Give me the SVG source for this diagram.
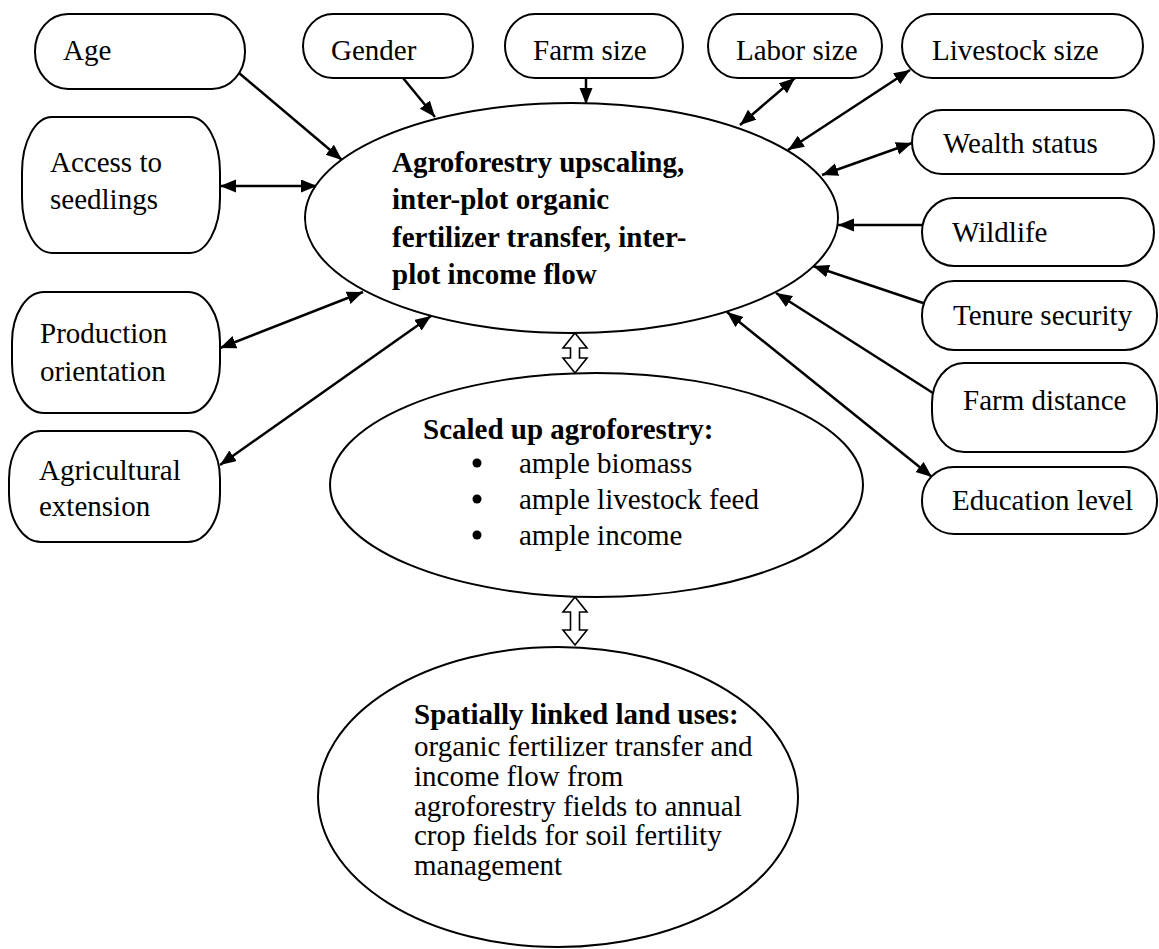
<svg xmlns="http://www.w3.org/2000/svg" width="1159" height="949" viewBox="0 0 1159 949">
<style>
.box{fill:#fff;stroke:#000;stroke-width:2}
.ell{fill:#fff;stroke:#000;stroke-width:2}
.t{font-family:"Liberation Serif","Times New Roman",serif;font-size:29px;fill:#000}
.b{font-weight:bold}
.c{stroke:#000;stroke-width:2.5;fill:none}
.ha{fill:#fff;stroke:#000;stroke-width:1.6}
</style>
<defs>
<marker id="ah" markerUnits="userSpaceOnUse" markerWidth="18" markerHeight="14" refX="16" refY="6.5" orient="auto-start-reverse" viewBox="0 0 18 14">
<path d="M0,0 L16,6.5 L0,13 z" fill="#000"/>
</marker>
</defs>
<rect width="1159" height="949" fill="#fff"/>

<g id="connectors">
<line class="c" x1="239" y1="73" x2="342" y2="160" marker-end="url(#ah)"/>
<line class="c" x1="403" y1="78" x2="435" y2="117" marker-end="url(#ah)"/>
<line class="c" x1="586" y1="78" x2="586" y2="104" marker-end="url(#ah)"/>
<line class="c" x1="795" y1="78" x2="740" y2="125" marker-start="url(#ah)" marker-end="url(#ah)"/>
<line class="c" x1="910" y1="70" x2="788" y2="150" marker-start="url(#ah)" marker-end="url(#ah)"/>
<line class="c" x1="912" y1="143" x2="822" y2="175" marker-start="url(#ah)" marker-end="url(#ah)"/>
<line class="c" x1="922" y1="225" x2="838" y2="225" marker-end="url(#ah)"/>
<line class="c" x1="923" y1="303" x2="813" y2="266" marker-end="url(#ah)"/>
<line class="c" x1="933" y1="393" x2="776" y2="293" marker-end="url(#ah)"/>
<line class="c" x1="727" y1="312" x2="932" y2="477" marker-start="url(#ah)" marker-end="url(#ah)"/>
<line class="c" x1="220" y1="186" x2="317" y2="186" marker-start="url(#ah)" marker-end="url(#ah)"/>
<line class="c" x1="220" y1="348" x2="363" y2="292" marker-start="url(#ah)" marker-end="url(#ah)"/>
<line class="c" x1="220" y1="465" x2="431" y2="316" marker-start="url(#ah)" marker-end="url(#ah)"/>
<path class="ha" d="M575,333 L587,348 L579.5,348 L579.5,358 L587,358 L575,373 L563,358 L570.5,358 L570.5,348 L563,348 Z"/>
<path class="ha" d="M575,597 L587,612 L579.5,612 L579.5,630 L587,630 L575,645 L563,630 L570.5,630 L570.5,612 L563,612 Z"/>
</g>

<g id="main">
<ellipse class="ell" cx="571.5" cy="218" rx="266.5" ry="115"/>
<text class="t b" x="392" y="172">Agroforestry upscaling,</text>
<text class="t b" x="392" y="209">inter-plot organic</text>
<text class="t b" x="392" y="247">fertilizer transfer, inter-</text>
<text class="t b" x="392" y="284">plot income flow</text>
</g>

<g id="scaled">
<ellipse class="ell" cx="596.5" cy="485" rx="266.5" ry="112"/>
<text class="t b" x="423" y="439">Scaled up agroforestry:</text>
<circle cx="477" cy="463" r="4.5"/>
<circle cx="477" cy="499" r="4.5"/>
<circle cx="477" cy="535" r="4.5"/>
<text class="t" x="519" y="473">ample biomass</text>
<text class="t" x="519" y="509">ample livestock feed</text>
<text class="t" x="519" y="545">ample income</text>
</g>

<g id="spatial">
<ellipse class="ell" cx="558" cy="797" rx="240" ry="150"/>
<text class="t b" x="414" y="724">Spatially linked land uses:</text>
<text class="t" x="414" y="756">organic fertilizer transfer and</text>
<text class="t" x="414" y="786">income flow from</text>
<text class="t" x="414" y="816">agroforestry fields to annual</text>
<text class="t" x="414" y="845">crop fields for soil fertility</text>
<text class="t" x="414" y="875">management</text>
</g>

<g id="age"><rect class="box" x="35" y="14" width="210" height="75" rx="33" ry="37"/><text class="t" x="63" y="60">Age</text></g>
<g id="gender"><rect class="box" x="303" y="14" width="170" height="64" rx="30" ry="32"/><text class="t" x="331" y="60">Gender</text></g>
<g id="farmsize"><rect class="box" x="505" y="14" width="178" height="64" rx="30" ry="32"/><text class="t" x="533" y="60">Farm size</text></g>
<g id="labor"><rect class="box" x="708" y="14" width="174" height="64" rx="30" ry="32"/><text class="t" x="736" y="60">Labor size</text></g>
<g id="livestock"><rect class="box" x="902" y="14" width="241" height="64" rx="30" ry="32"/><text class="t" x="932" y="60">Livestock size</text></g>

<g id="access"><rect class="box" x="22" y="117" width="198" height="136" rx="30" ry="55"/><text class="t" x="50" y="172">Access to</text><text class="t" x="50" y="209">seedlings</text></g>
<g id="production"><rect class="box" x="12" y="292" width="208" height="121" rx="32" ry="50"/><text class="t" x="40" y="343">Production</text><text class="t" x="40" y="381">orientation</text></g>
<g id="extension"><rect class="box" x="9" y="431" width="211" height="111" rx="32" ry="48"/><text class="t" x="39" y="480">Agricultural</text><text class="t" x="39" y="516">extension</text></g>

<g id="wealth"><rect class="box" x="912" y="110" width="242" height="64" rx="30" ry="32"/><text class="t" x="943" y="153">Wealth status</text></g>
<g id="wildlife"><rect class="box" x="922" y="198" width="232" height="68" rx="32" ry="34"/><text class="t" x="952" y="242">Wildlife</text></g>
<g id="tenure"><rect class="box" x="922" y="281" width="235" height="69" rx="32" ry="34"/><text class="t" x="953" y="325">Tenure security</text></g>
<g id="farmdistance"><rect class="box" x="932" y="363" width="225" height="89" rx="32" ry="40"/><text class="t" x="963" y="410">Farm distance</text></g>
<g id="education"><rect class="box" x="922" y="467" width="235" height="67" rx="32" ry="33"/><text class="t" x="952" y="510">Education level</text></g>
</svg>
